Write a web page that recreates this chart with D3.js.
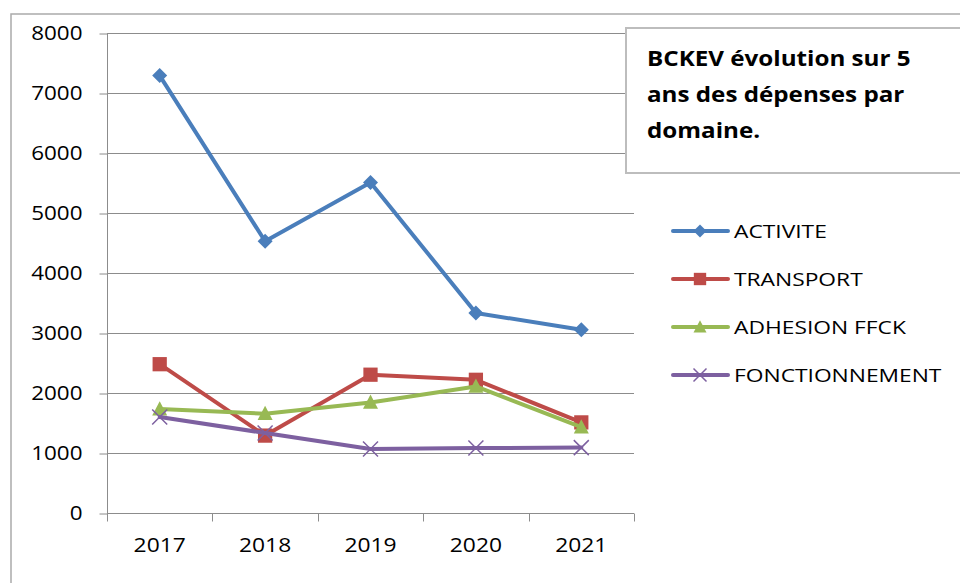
<!DOCTYPE html>
<html><head><meta charset="utf-8">
<script src="https://cdn.jsdelivr.net/npm/d3@7"></script>
<style>
html,body{margin:0;padding:0;background:#fff;}
svg{display:block;font-family:"Open Sans",Lato,sans-serif;}
</style></head>
<body>
<svg id="chart" width="960" height="583"></svg>
<script>
const years = ["2017","2018","2019","2020","2021"];
const seriesNames = ["ACTIVITE","TRANSPORT","ADHESION FFCK","FONCTIONNEMENT"];
const activite = [7290, 4530, 5510, 3333, 3055];
const transport = [2480, 1290, 2305, 2220, 1510];
const adhesion = [1733, 1655, 1843, 2110, 1433];
const fonctionnement = [1600, 1333, 1067, 1083, 1090];
const yTicks = [0,1000,2000,3000,4000,5000,6000,7000,8000];
const titleLines = ["BCKEV évolution sur 5","ans des dépenses par","domaine."];

const colors = ["#4A7EBB","#BE4B48","#98B954","#7D60A0"];
const markers = ["diamond","square","triangle","cross"];
const allSeries = [activite, transport, adhesion, fonctionnement];
const FONT = "'Open Sans'";

const svg = d3.select("#chart");
const M = {left:107, right:634, top:33, bottom:513};

// outer chart border
svg.append("rect").attr("x",11).attr("y",14).attr("width",1000).attr("height",700)
  .attr("fill","#fff").attr("stroke","#ababab").attr("stroke-width",1.5);

const x = d3.scaleBand().domain(years).range([M.left, M.right]);
const y = d3.scaleLinear().domain([0,8000]).range([M.bottom, M.top]);

// gridlines
svg.append("g").selectAll("line").data(yTicks.filter(d=>d>0)).join("line")
  .attr("x1",M.left).attr("x2",M.right)
  .attr("y1",d=>y(d)+0.5).attr("y2",d=>y(d)+0.5)
  .attr("stroke","#8c8c8c").attr("stroke-width",1);

// y axis
const yAxis = d3.axisLeft(y).tickValues(yTicks).tickSize(8).tickPadding(17).tickFormat(d3.format("d"));
const gy = svg.append("g").attr("transform",`translate(${M.left+0.5},0.5)`).call(yAxis);
gy.selectAll("path,line").attr("stroke","#8c8c8c");
gy.select(".domain").attr("d",`M0,${M.top}V${M.bottom}`);
gy.selectAll("text").attr("font-size",19.5).attr("fill","#000").attr("font-family",FONT)
  .attr("transform",function(){const ax=+d3.select(this).attr("x");return `translate(${ax},0) scale(1.15,1) translate(${-ax},0)`;});

// x axis
const xAxis = d3.axisBottom(x).tickSize(0).tickPadding(25);
const gx = svg.append("g").attr("transform",`translate(0,${M.bottom+0.5})`).call(xAxis);
gx.select(".domain").attr("stroke","#8c8c8c").attr("d",`M${M.left},0H${M.right}`);
gx.selectAll("text").attr("font-size",19.5).attr("fill","#000").attr("font-family",FONT)
  .attr("transform","scale(1.17,1)");
// boundary ticks
const bounds = years.map(d=>x(d)).concat([M.right]);
gx.append("g").selectAll("line").data(bounds).join("line")
  .attr("x1",d=>Math.round(d)+0.5).attr("x2",d=>Math.round(d)+0.5).attr("y1",0).attr("y2",8)
  .attr("stroke","#8c8c8c");

function drawMarker(g, type, cx, cy, color, s){
  if(type==="diamond"){
    g.append("path").attr("d",`M${cx},${cy-s}L${cx+s},${cy}L${cx},${cy+s}L${cx-s},${cy}Z`).attr("fill",color);
  } else if(type==="square"){
    g.append("rect").attr("x",cx-s*0.95).attr("y",cy-s*0.95).attr("width",s*1.9).attr("height",s*1.9).attr("fill",color);
  } else if(type==="triangle"){
    g.append("path").attr("d",`M${cx},${cy-s*1.05}L${cx+s},${cy+s*0.85}L${cx-s},${cy+s*0.85}Z`).attr("fill",color);
  } else {
    g.append("path").attr("d",`M${cx-s},${cy-s}L${cx+s},${cy+s}M${cx-s},${cy+s}L${cx+s},${cy-s}`)
      .attr("stroke",color).attr("stroke-width",1.5).attr("fill","none");
  }
}

const line = d3.line().x((d,i)=>x(years[i])+x.bandwidth()/2).y(d=>y(d));
allSeries.forEach((vals,si)=>{
  const g = svg.append("g");
  g.append("path").attr("d",line(vals)).attr("fill","none").attr("stroke",colors[si])
    .attr("stroke-width",4).attr("stroke-linejoin","round").attr("stroke-linecap","round");
  vals.forEach((v,i)=>drawMarker(g, markers[si], x(years[i])+x.bandwidth()/2, y(v), colors[si], 7.5));
});

// title box
svg.append("rect").attr("x",626).attr("y",28).attr("width",400).attr("height",145)
  .attr("fill","#fff").attr("stroke","#bdbdbd").attr("stroke-width",2);
const tt = svg.append("text").attr("font-family",FONT).attr("font-weight","bold").attr("font-size",22).attr("fill","#000")
  .attr("transform","translate(647,0) scale(1.1,1)");
titleLines.forEach((t,i)=>tt.append("tspan").attr("x",0).attr("y",66+i*36).text(t));

// legend
const leg = svg.append("g");
seriesNames.forEach((n,i)=>{
  const cy = 231 + i*48;
  const g = leg.append("g");
  g.append("line").attr("x1",673).attr("x2",728).attr("y1",cy).attr("y2",cy)
    .attr("stroke",colors[i]).attr("stroke-width",4).attr("stroke-linecap","round");
  drawMarker(g, markers[i], 700, cy, colors[i], 6.5);
  g.append("text").attr("x",0).attr("y",cy+7).attr("font-size",19).attr("font-family",FONT).attr("fill","#000")
    .attr("transform","translate(734,0) scale(1.2,1)").text(n);
});
</script>
</body></html>
